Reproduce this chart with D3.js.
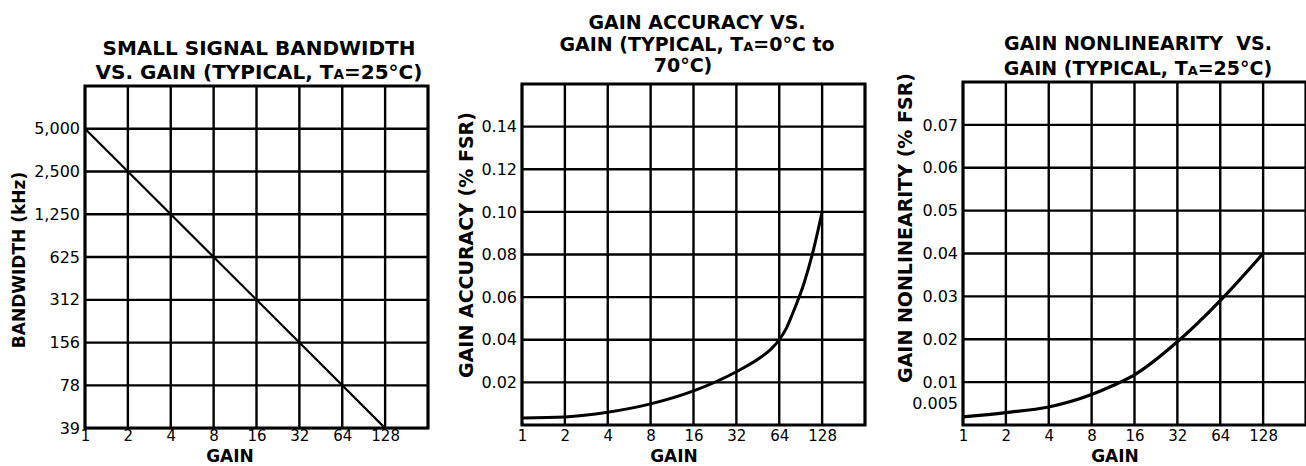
<!DOCTYPE html>
<html>
<head>
<meta charset="utf-8">
<script src="https://cdn.jsdelivr.net/npm/d3@7"></script>
<style>
  body { margin: 0; background: #fff; }
  svg { display: block; }
</style>
</head>
<body>
<svg class="chart_svg"></svg>
<script>
// gain axis shared by all three panels
const gainTicks = [1, 2, 4, 8, 16, 32, 64, 128];
const gainGrid = [1, 2, 4, 8, 16, 32, 64, 128, 256];

// panel 1: small signal bandwidth (kHz)
const bwTicks = [5000, 2500, 1250, 625, 312, 156, 78, 39];
const bwGain = [1, 128];
const bwValues = [5000, 39];
const bwTitle = ['SMALL SIGNAL BANDWIDTH', 'VS. GAIN (TYPICAL, TA=25°C)'];

// panel 2: gain accuracy (% FSR)
const accTicks = [0.02, 0.04, 0.06, 0.08, 0.10, 0.12, 0.14];
const accGain = [1, 2, 4, 8, 16, 32, 48, 56, 64, 72, 80, 96, 112, 128];
const accValues = [0.0033, 0.0038, 0.006, 0.0099, 0.016, 0.025, 0.032, 0.0356, 0.040, 0.0456, 0.0528, 0.067, 0.083, 0.100];
const accTitle = ['GAIN ACCURACY VS.', 'GAIN (TYPICAL, TA=0°C to', '70°C)'];

// panel 3: gain nonlinearity (% FSR)
const nlTicks = [0.005, 0.01, 0.02, 0.03, 0.04, 0.05, 0.06, 0.07];
const nlGrid = [0.01, 0.02, 0.03, 0.04, 0.05, 0.06, 0.07];
const nlGain = [1, 2, 4, 8, 11.3, 16, 32, 64, 128];
const nlValues = [0.0019, 0.0029, 0.0042, 0.0071, 0.0092, 0.0117, 0.0194, 0.029, 0.040];
const nlTitle = ['GAIN NONLINEARITY  VS.', 'GAIN (TYPICAL, TA=25°C)'];

var W = 1306, H = 466;
var svg = d3.select('.chart_svg').attr('width', W).attr('height', H);
svg.append('rect').attr('width', W).attr('height', H).attr('fill', '#fff');

var font = "'DejaVu Sans', sans-serif";

function titleLines(g, lines, cx, y0, step, size, xOff) {
  lines.forEach(function(line, i) {
    var t = g.append('text')
      .attr('x', cx + (xOff[i] || 0))
      .attr('y', y0 + i * step)
      .attr('text-anchor', 'middle')
      .attr('font-family', font)
      .attr('font-weight', 'bold')
      .attr('font-size', size)
      .style('white-space', 'pre')
    var k = line.indexOf('TA=');
    if (k < 0) { t.text(line); return; }
    t.append('tspan').text(line.slice(0, k + 1));
    t.append('tspan').attr('font-size', size * 0.68).text('A');
    t.append('tspan').text(line.slice(k + 2));
  });
}

function panel(cfg) {
  var g = svg.append('g');

  var x = d3.scaleLog().base(2).domain([1, 256]).range([cfg.left, cfg.right]);
  var y = cfg.y.range([cfg.bottom, cfg.top]);

  //grid
  g.selectAll('.vgrid')
    .data(gainGrid)
    .join('line')
    .attr('x1', d => x(d)).attr('x2', d => x(d))
    .attr('y1', cfg.top).attr('y2', cfg.bottom)
    .attr('stroke', '#000').attr('stroke-width', 2.4);

  g.selectAll('.hgrid')
    .data(cfg.grid)
    .join('line')
    .attr('x1', cfg.left).attr('x2', cfg.right)
    .attr('y1', d => y(d)).attr('y2', d => y(d))
    .attr('stroke', '#000').attr('stroke-width', 2.4);

  g.append('rect')
    .attr('x', cfg.left).attr('y', cfg.top)
    .attr('width', cfg.right - cfg.left).attr('height', cfg.bottom - cfg.top)
    .attr('fill', 'none').attr('stroke', '#000').attr('stroke-width', 3);

  //x axis stuff
  g.append('g')
    .attr('transform', `translate(0,${cfg.bottom})`)
    .call(d3.axisBottom(x).tickValues(gainTicks).tickFormat(d3.format('d')).tickSize(0))
    .call(a => a.select('.domain').remove())
    .call(a => a.selectAll('text').attr('y', 441 - cfg.bottom).attr('dy', 0))
    .attr('font-family', font).attr('font-size', 15);

  g.append('text')
    .attr('x', cfg.gainX).attr('y', 462)
    .attr('text-anchor', 'middle')
    .attr('font-family', font).attr('font-weight', 'bold').attr('font-size', 17)
    .text('GAIN');

  //y axis stuff
  g.append('g')
    .attr('transform', `translate(${cfg.left},0)`)
    .call(d3.axisLeft(y).tickValues(cfg.ticks).tickFormat(cfg.fmt).tickSize(0).tickPadding(5))
    .call(a => a.select('.domain').remove())
    .attr('font-family', font).attr('font-size', 16);

  g.append('text')
    .attr('transform', `translate(${cfg.ylabX},${cfg.ylabY}) rotate(-90)`)
    .attr('dy', '0.36em')
    .attr('text-anchor', 'middle')
    .attr('font-family', font).attr('font-weight', 'bold').attr('font-size', cfg.ylabSize)
    .text(cfg.ylab);

  titleLines(g, cfg.title, cfg.titleX, cfg.titleY, cfg.titleStep, cfg.titleSize, cfg.titleOff || []);

  //curve
  var line = d3.line()
    .x(d => x(d[0]))
    .y(d => y(d[1]))
    .curve(d3.curveMonotoneX);

  g.append('path')
    .datum(cfg.gain.map((d, i) => [d, cfg.values[i]]))
    .attr('d', line)
    .attr('fill', 'none')
    .attr('stroke', '#000')
    .attr('stroke-width', cfg.curveW);
}

panel({
  left: 85, right: 428, top: 86, bottom: 428,
  y: d3.scaleLog().base(2).domain([39.0625, 10000]),
  grid: bwTicks, ticks: bwTicks, fmt: d3.format(','),
  gain: bwGain, values: bwValues, curveW: 2.2,
  title: bwTitle, titleX: 259, titleY: 55, titleStep: 24, titleSize: 20,
  ylab: 'BANDWIDTH (kHz)', ylabX: 19, ylabY: 260, ylabSize: 17,
  gainX: 230
});

panel({
  left: 522, right: 865, top: 84, bottom: 425,
  y: d3.scaleLinear().domain([0, 0.16]),
  grid: accTicks, ticks: accTicks, fmt: d3.format('.2f'),
  gain: accGain, values: accValues, curveW: 3,
  title: accTitle, titleX: 697, titleY: 29, titleStep: 21.5, titleSize: 19, titleOff: [0, 0, -14],
  ylab: 'GAIN ACCURACY (% FSR)', ylabX: 466, ylabY: 245, ylabSize: 19,
  gainX: 674
});

panel({
  left: 963, right: 1306, top: 82, bottom: 425,
  y: d3.scaleLinear().domain([0, 0.08]),
  grid: nlGrid, ticks: nlTicks, fmt: d => d < 0.01 ? d3.format('.3f')(d) : d3.format('.2f')(d),
  gain: nlGain, values: nlValues, curveW: 3.2,
  title: nlTitle, titleX: 1138, titleY: 50, titleStep: 25, titleSize: 19,
  ylab: 'GAIN NONLINEARITY (% FSR)', ylabX: 905, ylabY: 228, ylabSize: 19,
  gainX: 1115
});
</script>
</body>
</html>
